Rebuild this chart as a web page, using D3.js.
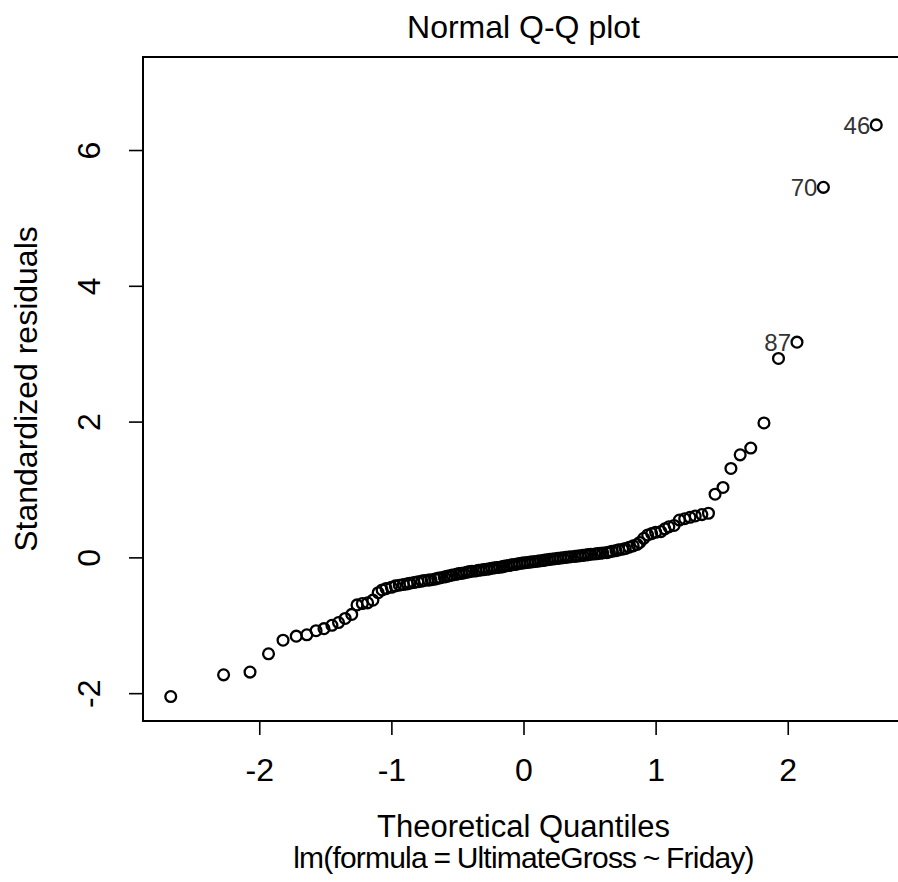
<!DOCTYPE html>
<html>
<head>
<meta charset="utf-8">
<script src="https://cdn.jsdelivr.net/npm/d3@7"></script>
<style>
  body { margin: 0; background: #fff; }
  svg { display: block; font-family: "Liberation Sans", Arial, Helvetica, sans-serif; }
</style>
</head>
<body>
<svg width="898" height="882"></svg>
<script>
// theoretical quantiles (x) for the 130 sorted residuals
var quantiles = [
  -2.67, -2.27, -2.07, -1.93, -1.82, -1.72, -1.64, -1.57, -1.51, -1.45,
  -1.40, -1.35, -1.30, -1.26, -1.22, -1.18, -1.14, -1.10, -1.07, -1.04,
  -1.00, -0.97, -0.94, -0.91, -0.88, -0.86, -0.83, -0.80, -0.77, -0.75,
  -0.72, -0.70, -0.67, -0.65, -0.63, -0.60, -0.58, -0.56, -0.54, -0.51,
  -0.49, -0.47, -0.45, -0.43, -0.41, -0.39, -0.36, -0.34, -0.32, -0.30,
  -0.28, -0.26, -0.24, -0.22, -0.20, -0.18, -0.16, -0.15, -0.13, -0.11,
  -0.09, -0.07, -0.05, -0.03, -0.01,
  0.01, 0.03, 0.05, 0.07, 0.09, 0.11, 0.13, 0.15, 0.16, 0.18,
  0.20, 0.22, 0.24, 0.26, 0.28, 0.30, 0.32, 0.34, 0.36, 0.39,
  0.41, 0.43, 0.45, 0.47, 0.49, 0.51, 0.54, 0.56, 0.58, 0.60,
  0.63, 0.65, 0.67, 0.70, 0.72, 0.75, 0.77, 0.80, 0.83, 0.86,
  0.88, 0.91, 0.94, 0.97, 1.00, 1.04, 1.07, 1.10, 1.14, 1.18,
  1.22, 1.26, 1.30, 1.35, 1.40, 1.45, 1.51, 1.57, 1.64, 1.72,
  1.82, 1.93, 2.07, 2.27, 2.67
];

// standardized residuals, sorted (y)
var residuals = [
  -2.05, -1.73, -1.69, -1.42, -1.22, -1.16, -1.14, -1.08, -1.05, -1.00,
  -0.96, -0.90, -0.84, -0.70, -0.68, -0.67, -0.63, -0.52, -0.48, -0.46,
  -0.44, -0.42, -0.41, -0.40, -0.39, -0.38, -0.37, -0.36, -0.35, -0.34,
  -0.335, -0.33, -0.32, -0.31, -0.30, -0.29, -0.28, -0.27, -0.26, -0.25,
  -0.24, -0.235, -0.23, -0.22, -0.21, -0.205, -0.20, -0.19, -0.185, -0.18,
  -0.175, -0.17, -0.16, -0.155, -0.15, -0.145, -0.14, -0.13, -0.125, -0.12,
  -0.11, -0.105, -0.10, -0.09, -0.085, -0.08, -0.075, -0.07, -0.065, -0.06,
  -0.055, -0.05, -0.045, -0.04, -0.035, -0.03, -0.025, -0.02, -0.015, -0.01,
  -0.005, 0.00, 0.005, 0.01, 0.015, 0.02, 0.025, 0.03, 0.035, 0.04,
  0.045, 0.05, 0.055, 0.06, 0.065, 0.07, 0.08, 0.09, 0.10, 0.11,
  0.12, 0.13, 0.15, 0.17, 0.19, 0.22, 0.28, 0.33, 0.35, 0.37,
  0.38, 0.42, 0.45, 0.47, 0.55, 0.57, 0.59, 0.61, 0.63, 0.65,
  0.93, 1.03, 1.31, 1.51, 1.61, 1.98, 2.93, 3.17, 5.45, 6.37
];

// labelled observations: position in the sorted arrays and row name
var idPositions = [127, 128, 129];
var idNames = ["87", "70", "46"];

var xTicks = [-2, -1, 0, 1, 2];
var yTicks = [-2, 0, 2, 4, 6];
var xDomain = [-2.88, 2.88];
var yDomain = [-2.41, 7.37];

var title = "Normal Q-Q plot";
var xLabel = "Theoretical Quantiles";
var subLabel = "lm(formula = UltimateGross ~ Friday)";
var yLabel = "Standardized residuals";

function draw() {
  var svg = d3.select("svg"),
    pLeft = 143,
    pRight = 904,
    pTop = 57,
    pBottom = 721;

  var x = d3.scaleLinear().domain(xDomain).range([pLeft, pRight]);
  var y = d3.scaleLinear().domain(yDomain).range([pBottom, pTop]);

  var points = quantiles.map(function (q, i) {
    return { q: q, r: residuals[i] };
  });

  // axes (R style: hyphen minus, rotated y labels)
  var xAxis = svg
    .append("g")
    .attr("transform", "translate(0," + pBottom + ")")
    .call(
      d3.axisBottom(x).tickValues(xTicks).tickSize(14).tickFormat(function (d) {
        return String(d);
      })
    );
  xAxis.select(".domain").remove();
  xAxis.selectAll("line").attr("stroke", "#000").attr("stroke-width", 1.6);
  xAxis
    .selectAll("text")
    .attr("y", 60)
    .attr("dy", 0)
    .attr("fill", "#000")
    .attr("font-size", "32px");

  var yAxis = svg
    .append("g")
    .attr("transform", "translate(" + pLeft + ",0)")
    .call(
      d3.axisLeft(y).tickValues(yTicks).tickSize(14).tickFormat(function (d) {
        return String(d);
      })
    );
  yAxis.select(".domain").remove();
  yAxis.selectAll("line").attr("stroke", "#000").attr("stroke-width", 1.6);
  yAxis
    .selectAll("text")
    .attr("x", 0)
    .attr("dy", 0)
    .attr("text-anchor", "middle")
    .attr("transform", "translate(-43,0) rotate(-90)")
    .attr("fill", "#000")
    .attr("font-size", "32px");

  // plot box, right side runs off the picture
  svg
    .append("rect")
    .attr("x", pLeft)
    .attr("y", pTop)
    .attr("width", pRight - pLeft)
    .attr("height", pBottom - pTop)
    .attr("fill", "none")
    .attr("stroke", "#000")
    .attr("stroke-width", 2);

  svg
    .append("g")
    .selectAll("circle")
    .data(points)
    .enter()
    .append("circle")
    .attr("cx", function (d) { return x(d.q); })
    .attr("cy", function (d) { return y(d.r); })
    .attr("r", 5.4)
    .attr("fill", "none")
    .attr("stroke", "#000")
    .attr("stroke-width", 2.3);

  svg
    .append("g")
    .selectAll("text")
    .data(idPositions)
    .enter()
    .append("text")
    .attr("x", function (d) { return x(quantiles[d]) - 6; })
    .attr("y", function (d) { return y(residuals[d]); })
    .attr("dy", "0.36em")
    .attr("text-anchor", "end")
    .attr("font-size", "24px")
    .attr("fill", "#333")
    .text(function (d, i) { return idNames[i]; });

  // titles
  var cx = (pLeft + pRight) / 2;
  svg.append("text").attr("x", cx).attr("y", 38).attr("text-anchor", "middle")
    .attr("font-size", "32px").text(title);
  svg.append("text").attr("x", cx).attr("y", 837).attr("text-anchor", "middle")
    .attr("font-size", "31px").text(xLabel);
  svg.append("text").attr("x", cx).attr("y", 868).attr("text-anchor", "middle")
    .attr("font-size", "30px")
    .attr("letter-spacing", "-0.8px")
    .attr("word-spacing", "-1px")
    .text(subLabel);
  svg.append("text")
    .attr("transform", "translate(37," + (pTop + pBottom) / 2 + ") rotate(-90)")
    .attr("text-anchor", "middle")
    .attr("font-size", "32px")
    .text(yLabel);
}

draw();
</script>
</body>
</html>
